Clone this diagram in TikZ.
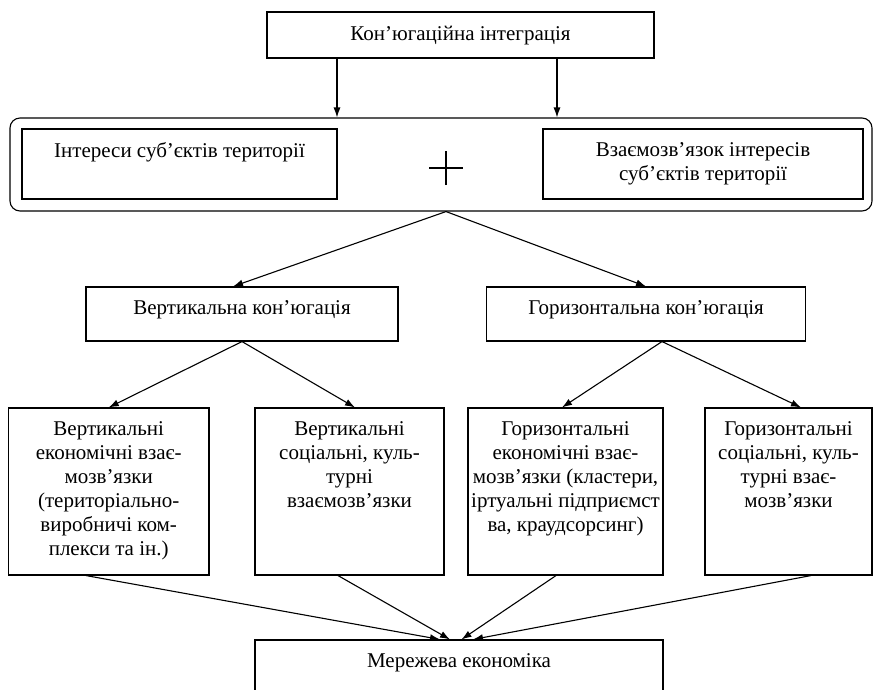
\documentclass[tikz,border=0pt]{standalone}
\usepackage{fontspec}
\setmainfont{Liberation Serif}
\usetikzlibrary{arrows.meta}

\tikzset{
  box/.style={draw, rectangle, inner sep=0pt, line width=1.1pt},
  lbl/.style={anchor=north, align=center, inner sep=0pt, yshift=-14pt,
    font=\fontsize{21}{24}\selectfont},
  link/.style={->, line width=1.1pt},
}

\begin{document}
\begin{tikzpicture}[x=1pt,y=-1pt,>={Latex[length=10pt,width=7pt]}]
  \useasboundingbox (0,0) rectangle (874,689);
  \clip (0,0) rectangle (874,689);
  % top level
  \node[box, minimum width=387pt, minimum height=46pt] (kon) at (460.5,35) {};
  \node[lbl] (konT) at (kon.north) {Кон’югаційна інтеграція};
  % interests
  \node[box, rounded corners=10pt, minimum width=862pt, minimum height=93pt] (sub) at (441,164.5) {};
  \node[box, minimum width=315pt, minimum height=70pt] (intL) at (179.5,164) {};
  \node[lbl] (intLT) at (intL.north) {Інтереси суб’єктів території};
  \node[box, minimum width=320pt, minimum height=70pt] (intR) at (703,164) {};
  \node[lbl] (intRT) at (intR.north) {Взаємозв’язок інтересів\\суб’єктів території};
  \coordinate (plus) at (446,168);
  \draw[line width=1.4pt] ([xshift=-17pt]plus) -- ([xshift=17pt]plus)
    ([yshift=-17pt]plus) -- ([yshift=17pt]plus);
  \draw[link] ([xshift=-123.5pt]kon.south) coordinate (a1) -- (a1 |- sub.north);
  \draw[link] ([xshift=96.5pt]kon.south) coordinate (a2) -- (a2 |- sub.north);
  % conjugation
  \node[box, minimum width=312pt, minimum height=54pt] (vert) at (242,314) {};
  \node[lbl] (vertT) at (vert.north) {Вертикальна кон’югація};
  \node[box, minimum width=319pt, minimum height=54pt] (horiz) at (646,314) {};
  \node[lbl] (horizT) at (horiz.north) {Горизонтальна кон’югація};
  \draw[link] ([xshift=5pt]sub.south) -- ([xshift=-9pt]vert.north);
  \draw[link] ([xshift=5pt]sub.south) -- (horiz.north);
  % relations
  \node[box, minimum width=200.6pt, minimum height=167pt] (b1) at (108.7,491.5) {};
  \node[lbl] (b1T) at (b1.north) {Вертикальні\\економічні взає-\\мозв’язки\\(територіально-\\виробничі ком-\\плекси та ін.)};
  \node[box, minimum width=189pt, minimum height=167pt] (b2) at (349.5,491.5) {};
  \node[lbl] (b2T) at (b2.north) {Вертикальні\\соціальні, куль-\\турні\\взаємозв’язки};
  \node[box, minimum width=195pt, minimum height=167pt] (b3) at (565.5,491.5) {};
  \node[lbl] (b3T) at (b3.north) {Горизонтальні\\економічні взає-\\мозв’язки (кластери,\\іртуальні підприємст\\ва, краудсорсинг)};
  \node[box, minimum width=167pt, minimum height=167pt] (b4) at (788.5,491.5) {};
  \node[lbl] (b4T) at (b4.north) {Горизонтальні\\соціальні, куль-\\турні взає-\\мозв’язки};
  \draw[link] (vert.south) -- (b1.north);
  \draw[link] (vert.south) -- ([xshift=5.5pt]b2.north);
  \draw[link] ([xshift=16pt]horiz.south) -- ([xshift=-3.5pt]b3.north);
  \draw[link] ([xshift=16pt]horiz.south) -- ([xshift=12.5pt]b4.north);
  % network economy
  \node[box, minimum width=408pt, minimum height=60pt] (mer) at (459,670) {};
  \node[lbl] (merT) at (mer.north) {Мережева економіка};
  \draw[link] ([xshift=-22.7pt]b1.south) -- ([xshift=-19pt]mer.north);
  \draw[link] ([xshift=-11.5pt]b2.south) -- ([xshift=-9pt]mer.north);
  \draw[link] ([xshift=-9.5pt]b3.south) -- ([xshift=2.5pt]mer.north);
  \draw[link] ([xshift=22.5pt]b4.south) -- ([xshift=14pt]mer.north);
\end{tikzpicture}
\end{document}
